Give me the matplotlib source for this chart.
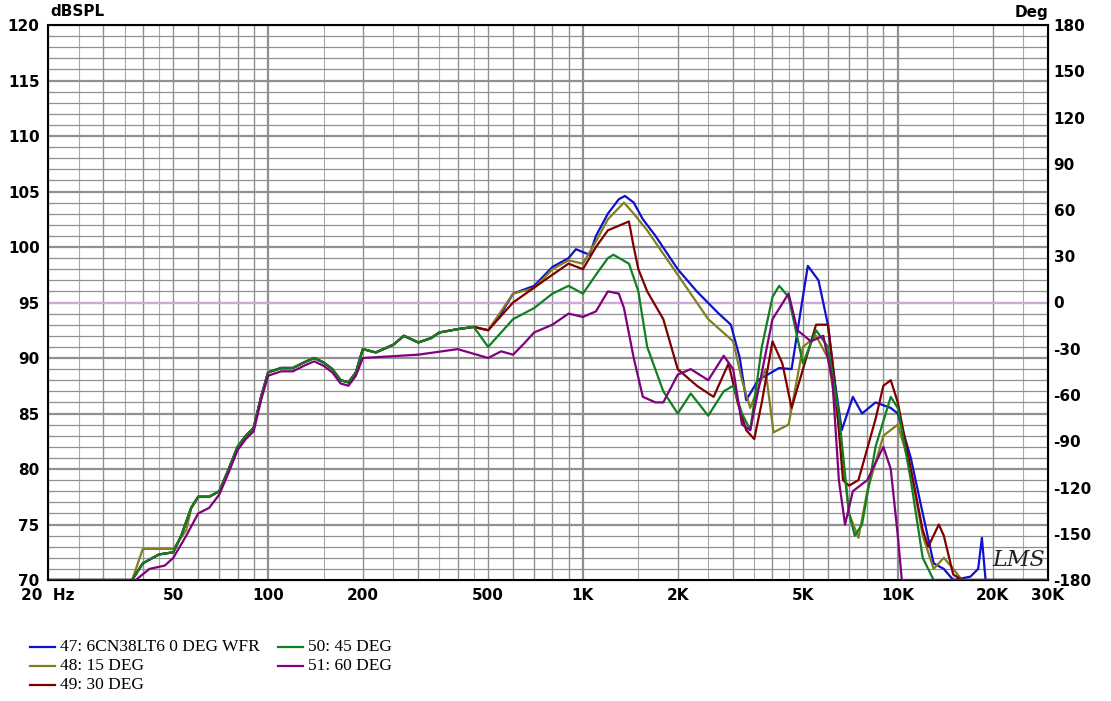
import matplotlib.pyplot as plt
import numpy as np

# frequency response, 0..60 deg off axis (Hz, dBSPL)
f_low = [20, 37, 40, 45, 50, 53, 57, 60, 65, 70, 75, 80, 85, 90, 95, 100, 110, 120, 130,
         140, 150, 160, 170, 180, 190, 200, 220, 250, 270, 300, 330, 350, 400, 450, 500]
db_low = [70, 70, 71.5, 72.3, 72.5, 74, 76.5, 77.5, 77.5, 78, 80, 82, 83, 83.7, 86.5, 88.7,
          89.1, 89.1, 89.6, 90, 89.6, 89, 88, 87.8, 88.7, 90.8, 90.5, 91.2, 92, 91.4, 91.8,
          92.3, 92.6, 92.8, 92.5]

f_0 = [550, 600, 700, 800, 900, 950, 1050, 1100, 1200, 1300, 1360, 1450, 1550, 1700, 2000,
       2300, 2700, 2950, 3150, 3300, 3600, 4200, 4600, 4900, 5180, 5600, 6000, 6300, 6640,
       7200, 7700, 8500, 9500, 10000, 11000, 12000, 13000, 14000, 15000, 17000, 18000, 18500,
       19000, 20000, 30000]
db_0 = [94, 95.8, 96.5, 98.2, 99, 99.8, 99.3, 101, 103, 104.3, 104.6, 104, 102.5, 101, 98,
        96, 94, 93, 90, 86.2, 88, 89.1, 89, 94, 98.3, 97, 93, 88, 83.5, 86.5, 85, 86, 85.5,
        85, 81, 76, 71.5, 71, 70, 70.3, 71, 73.8, 70, 70, 70]

f_15 = [40, 45, 50, 55, 600, 700, 800, 900, 1000, 1100, 1200, 1350, 1450, 1600, 2000, 2500,
        3000, 3200, 3400, 3800, 4030, 4500, 5000, 5500, 6000, 6500, 7000, 7500, 8000, 9000,
        10000, 11000, 12000, 13000, 14000, 15000, 16000, 30000]
db_15 = [72.8, 72.8, 72.8, 74.5, 95.8, 96.3, 98, 98.8, 98.5, 100.5, 102.5, 104, 103, 101.5,
         97.5, 93.5, 91.5, 88, 85.5, 89, 83.3, 84, 91, 92, 90, 84, 76, 73.8, 78, 83, 84, 80,
         74, 71, 72, 71, 70, 70]

f_30 = [600, 800, 900, 1000, 1100, 1200, 1400, 1450, 1500, 1600, 1800, 2000, 2300, 2600,
        2900, 3100, 3300, 3500, 3700, 4000, 4300, 4600, 5000, 5500, 6000, 6300, 6700, 7000,
        7500, 8500, 9000, 9500, 10000, 11000, 12000, 12500, 13500, 14000, 15000, 16000, 30000]
db_30 = [95, 97.5, 98.5, 98, 100, 101.5, 102.3, 100, 98, 96, 93.5, 89, 87.5, 86.5, 89.5, 86,
         83.5, 82.7, 86, 91.5, 89.5, 85.5, 89, 93, 93, 88, 79, 78.5, 79, 84.5, 87.5, 88, 86,
         80, 74.5, 73, 75, 74, 70.5, 70, 70]

f_45 = [500, 600, 700, 800, 900, 1000, 1100, 1200, 1250, 1400, 1500, 1600, 1800, 2000, 2200,
        2500, 2800, 3000, 3200, 3400, 3700, 4000, 4200, 4500, 5000, 5500, 6000, 6500, 7000,
        7300, 7700, 8500, 9500, 10000, 11000, 12000, 13000, 30000]
db_45 = [91, 93.5, 94.5, 95.8, 96.5, 95.8, 97.5, 99, 99.3, 98.5, 96, 91, 87, 85, 86.8, 84.8,
         87, 87.5, 85, 83.5, 91, 95.5, 96.5, 95.5, 89.5, 92.5, 91, 85, 76, 74, 75, 82, 86.5,
         85.5, 79, 72, 70, 70]

f_60 = [20, 38, 42, 47, 50, 55, 60, 65, 200, 300, 400, 500, 550, 600, 650, 700, 800, 900,
        1000, 1100, 1200, 1300, 1350, 1450, 1550, 1700, 1800, 2000, 2200, 2500, 2800, 3000,
        3200, 3400, 3600, 4000, 4500, 4800, 5300, 5800, 6200, 6500, 6800, 7200, 8000, 9000,
        9500, 10000, 10300, 30000]
db_60 = [70, 70, 71, 71.3, 72, 74, 76, 76.5, 90, 90.3, 90.8, 90, 90.6, 90.3, 91.3, 92.3, 93,
         94, 93.7, 94.2, 96, 95.8, 94.5, 90, 86.5, 86, 86, 88.5, 89, 88, 90.2, 89, 84, 83.5,
         87, 93.5, 95.8, 92.5, 91.5, 92, 88, 79, 75, 78, 79, 82, 80, 74, 70, 70]

labels = ['47: 6CN38LT6 0 DEG WFR', '48: 15 DEG', '49: 30 DEG', '50: 45 DEG', '51: 60 DEG']
colors = ['#1010d0', '#808020', '#800000', '#108020', '#800080']


def merge(f, d, keep, shift=0.0):
    # shared low band points for which keep(freq) is true, plus the curve's own points
    pts = [(a, b + shift) for a, b in zip(f_low, db_low) if keep(a)] + list(zip(f, d))
    pts.sort()
    return [p[0] for p in pts], [p[1] for p in pts]


series = [
    merge(f_0, db_0, lambda a: a < 550),
    merge(f_15, db_15, lambda a: a < 40 or 55 < a < 600),
    merge(f_30, db_30, lambda a: a < 600),
    merge(f_45, db_45, lambda a: a < 500),
    merge(f_60, db_60, lambda a: 65 < a < 200, -0.3),
]

fig = plt.figure(figsize=(11.11, 7.01), dpi=100)
ax = fig.add_axes([48 / 1111, 121 / 701, 1000 / 1111, 555 / 701])
ax.set_xscale('log')
ax.set_xlim(20, 30000)
ax.set_ylim(70, 120)

for dec in [10, 100, 1000, 10000]:
    for m in range(1, 10):
        v = dec * m
        if 20 < v < 30000:
            ax.axvline(v, color='#909090', lw=1.6 if m == 1 else 1.0, zorder=0)
for m in [1.5, 2.5, 3.5, 4.5]:
    for dec in [10, 100, 1000, 10000]:
        v = dec * m
        if 20 < v < 30000:
            ax.axvline(v, color='#a8a8a8', lw=0.8, zorder=0)
for y in range(71, 120):
    ax.axhline(y, color='#909090', lw=1.6 if y % 5 == 0 else 0.9, zorder=0)
ax.axhline(95, color='#d0a8d8', lw=1.5, zorder=1)

for (f, d), c in zip(series, colors):
    ax.plot(f, d, color=c, lw=1.6, zorder=3)

for s in ax.spines.values():
    s.set_linewidth(1.5)
xt = [20, 50, 100, 200, 500, 1000, 2000, 5000, 10000, 20000, 30000]
xl = ['20  Hz', '50', '100', '200', '500', '1K', '2K', '5K', '10K', '20K', '30K']
ax.set_xticks(xt)
ax.set_xticklabels(xl, fontsize=11, fontweight='bold')
ax.minorticks_off()
ax.set_yticks(range(70, 121, 5))
ax.set_yticklabels([str(v) for v in range(70, 121, 5)], fontsize=11, fontweight='bold')
ax.tick_params(length=0, pad=6)

ax2 = ax.twinx()
ax2.set_ylim(-180, 180)
ax2.set_yticks(range(-180, 181, 30))
ax2.set_yticklabels([str(v) for v in range(-180, 181, 30)], fontsize=11, fontweight='bold')
ax2.tick_params(length=0, pad=4)

fig.text(50 / 1111, 1 - 12 / 701, 'dBSPL', fontsize=11, fontweight='bold', va='center')
fig.text(1048 / 1111, 1 - 12 / 701, 'Deg', fontsize=11, fontweight='bold', va='center', ha='right')
fig.text(992 / 1111, 1 - 560 / 701, 'LMS', fontsize=16, style='italic', family='DejaVu Serif',
         color='#222222', va='center')

leg_pos = [(30, 647), (30, 666), (30, 685), (278, 647), (278, 666)]
for (x, y), c, t in zip(leg_pos, colors, labels):
    fig.add_artist(plt.Line2D([x / 1111, (x + 25) / 1111], [1 - y / 701] * 2, color=c, lw=1.6))
    fig.text((x + 30) / 1111, 1 - y / 701, t, fontsize=12.5, family='Liberation Serif', va='center')

fig.savefig('out.png', dpi=100)
